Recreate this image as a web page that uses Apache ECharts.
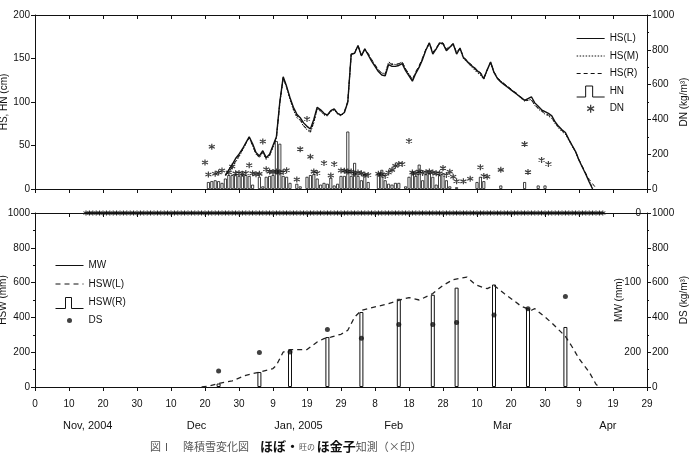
<!DOCTYPE html>
<html>
<head>
<meta charset="utf-8">
<script src="https://cdn.jsdelivr.net/npm/echarts@6/dist/echarts.min.js"></script>
<style>
  html, body { margin: 0; padding: 0; background: #fff; }
  #main { width: 691px; height: 455px; }
</style>
</head>
<body>
<div id="main"></div>
<script>
// x axis: days counted from Oct 31, 2004 (tick every 10 days)
var xTickLabels = ['0','10','20','30','10','20','30','9','19','29','8','18','28','10','20','30','9','19','29'];
var monthNames = ['Nov, 2004','Dec','Jan, 2005','Feb','Mar','Apr'];
var monthDays = [15.5, 47.5, 77.5, 105.5, 137.5, 168.5];

// top panel: snow depth HS (cm), daily from hsStart
var hsStart = 56;
var hsL = [16,22,28,35,40,46,53,60,52,42,38,44,36,40,50,60,100,129,118,105,94,86,82,76,72,69,80,94,91,87,
  85,90,92,87,85,88,100,155,156,165,153,161,154,147,141,135,131,130,143,141,141,142,144,136,130,124,133,140,149,160,
  168,155,161,168,167,159,163,167,155,162,151,147,143,140,136,133,127,137,146,134,127,123,120,117,114,111,108,105,102,104,
  106,99,95,91,89,87,84,77,72,68,65,57,50,43,33,25,17,8,0];
var hsM = [15,19,24,31,37,44,52,59,50,40,36,42,34,38,48,58,98,127,117,103,91,82,79,72,68,65,76,92,89,85,
  84,89,91,86,84,88,99,154,156,164,153,160,155,148,142,137,133,133,146,144,143,144,146,138,132,125,134,141,150,160,
  167,156,161,167,167,160,163,166,156,161,150,146,142,138,134,131,126,136,145,134,128,124,121,118,114,111,108,104,101,102,
  103,96,92,89,86,84,81,75,70,66,63,56,49,42,33,25,17,9,2];
var hsR = [16,20,25,32,38,45,52,59,50,40,37,43,35,39,49,59,99,128,117,104,92,84,80,73,69,66,77,93,90,86,
  85,90,92,87,85,89,101,155,157,165,154,161,156,149,143,137,133,132,145,143,143,144,146,138,132,126,135,142,151,161,
  168,157,162,168,168,161,164,167,157,162,152,148,144,141,137,134,128,137,146,135,128,124,121,118,115,112,109,105,102,102,
  102,97,93,90,87,85,82,76,71,67,64,57,50,43,34,26,18,11,6,1];

// new snow depth HN (cm)
var hnDays = [51,52,53,54,55,56,57,58,59,60,61,62,63,64,66,67,68,69,70,71,72,73,74,75,77,78,80,81,82,83,84,85,86,87,88,89,90,91,
  92,93,94,95,96,97,98,101,102,103,104,105,106,107,109,110,111,112,113,114,115,116,117,118,119,120,121,122,124,130,131,132,137,144,148,150];
var hnValues = [8,9,10,9,7,12,16,16,17,15,16,16,15,5,14,3,14,15,16,55,52,15,14,7,6,3,14,16,17,12,5,7,6,13,4,6,15,15,
  66,15,30,15,10,17,8,18,22,10,6,5,7,7,3,14,20,15,28,10,17,18,14,5,16,18,10,3,2,8,14,9,4,8,4,4];

// new snow density DN (kg/m3)
var dnDays = [50,51,52,53,54,55,57,58,59,60,61,62,63,64,65,66,67,68,69,70,71,72,73,74,77,78,80,81,82,83,85,87,88,90,91,92,93,94,95,96,97,98,
  101,102,103,104,105,106,107,108,110,111,112,113,114,115,116,117,118,119,120,121,122,123,124,126,128,131,132,133,137,144,145,149,151];
var dnValues = [152,83,243,88,95,106,95,129,90,92,88,92,137,90,85,87,273,114,100,98,100,96,98,108,55,229,402,185,100,92,149,78,144,106,105,100,100,88,95,90,82,80,
  88,84,75,95,110,133,144,144,276,95,90,100,92,96,100,95,90,90,120,80,99,70,45,44,59,125,75,70,110,258,97,167,144];

// bottom panel: melt water MW (mm), daily from mwStart
var mwStart = 15;
var mwValues = [
  0,0,0,0,0,0,0,0,0,0,0,0,0,0,0,0,0,0,0,0,0,0,0,0,0,0,0,0,0,0,0,0,0,0,0,0,0,0,0,0,0,0,0,0,0,0,0,0,0,0,0,
  0,0,0,0,0,0,0,0,0,0,0,0,0,0,0,0,0,0,0,0,0,0,0,0,0,0,0,0,0,0,0,0,0,0,0,0,0,0,0,0,0,0,0,0,0,0,0,0,0,0,0,
  0,0,0,0,0,0,0,0,0,0,0,0,0,0,0,0,0,0,0,0,0,0,0,0,0,0,0,0,0,0,0,0,0,0,0,0,0,0,0,0,0,0,0,0,0,0,0,0,0,0,0];

// snow water equivalent HSW(L) (mm)
var hswLDays = [49,51,54,58,62,66,70,71,73,75,80,83,85,87,90,92,94,96,100,104,107,110,113,117,120,123,127,129,130,133,135,138,141,143,146,147,150,152,153,156,158,160,163,165,166];
var hswLValues = [0,4,20,35,67,86,106,125,201,215,215,259,278,287,303,326,402,441,460,479,498,514,500,537,584,617,632,598,584,565,584,537,494,464,441,450,402,368,349,291,230,163,86,16,0];

// snow pit observations: HSW(R) (mm) and bulk density DS (kg/m3)
var pitDays = [54,66,75,86,96,107,117,124,135,145,156];
var hswRValues = [20,86,211,287,431,507,530,571,589,452,345];
var dsValues = [92,198,201,330,280,359,359,370,414,450,520];

var FONT = 'Liberation Sans, Arial, sans-serif';
var INK = '#111';
var STAR = 'path://M0,-3.5L0,3.5M-3.03,-1.75L3.03,1.75M-3.03,1.75L3.03,-1.75';
var LINE_ICON = 'path://M0,-6M28,6M0,0L28,0';

function pairs(days, vals) {
  return vals.map(function (v, i) { return [days[i], v]; });
}
function run(start, vals) {
  return vals.map(function (v, i) { return [start + i, v]; });
}
function lineIcon(name, dash) {
  return { name: name, icon: LINE_ICON,
    itemStyle: { color: 'transparent', borderColor: INK, borderWidth: 1, borderType: dash } };
}

function xAxisBase(grid, pos, extra) {
  var a = {
    gridIndex: grid, type: 'value', position: pos, min: 0, max: 180, interval: 10,
    axisLine: { onZero: false, lineStyle: { color: INK, width: 1 } },
    axisTick: { inside: pos === 'top', length: 4, lineStyle: { color: INK } },
    axisLabel: { show: false },
    splitLine: { show: false }
  };
  return Object.assign(a, extra || {});
}
function yAxisBase(grid, pos, min, max, interval, extra) {
  var a = {
    gridIndex: grid, type: 'value', position: pos, min: min, max: max, interval: interval,
    axisLine: { show: true, onZero: false, lineStyle: { color: INK, width: 1 } },
    axisTick: { show: true, length: 4, lineStyle: { color: INK } },
    axisLabel: { color: INK, fontSize: 10, fontFamily: FONT, margin: 5,
      formatter: function (v) { return String(v); } },
    splitLine: { show: false },
    nameLocation: 'middle', nameRotate: 90, nameMoveOverlap: false,
    nameTextStyle: { color: INK, fontSize: 10, fontFamily: FONT }
  };
  return Object.assign(a, extra || {});
}
var minor = { show: true, splitNumber: 2, length: 2, lineStyle: { color: INK } };

var chart = echarts.init(document.getElementById('main'));
var option = {
  backgroundColor: '#fff',
  animation: false,
  grid: [
    { left: 35, right: 44, top: 15, height: 174, containLabel: false, outerBoundsMode: 'none' },
    { left: 35, right: 44, top: 213, height: 174, containLabel: false, outerBoundsMode: 'none' }
  ],
  xAxis: [
    xAxisBase(0, 'bottom'),
    xAxisBase(0, 'top'),
    xAxisBase(1, 'bottom', {
      axisLabel: { show: true, color: INK, fontSize: 10, fontFamily: FONT, margin: 12,
        formatter: function (v) { return xTickLabels[Math.round(v / 10)]; } }
    }),
    xAxisBase(1, 'top'),
    xAxisBase(1, 'bottom', {
      axisLine: { show: false }, axisTick: { show: false },
      axisLabel: { show: true, color: INK, fontSize: 11, fontFamily: FONT, margin: 33,
        customValues: monthDays,
        formatter: function (v) { return monthNames[monthDays.indexOf(v)]; } }
    })
  ],
  yAxis: [
    yAxisBase(0, 'left', 0, 200, 50, { name: 'HS, HN (cm)', nameGap: 26 }),
    yAxisBase(0, 'right', 0, 1000, 200, { name: 'DN (kg/m³)', nameGap: 32, minorTick: minor }),
    yAxisBase(1, 'left', 0, 1000, 200, { name: 'HSW (mm)', nameGap: 27, minorTick: minor }),
    yAxisBase(1, 'right', 0, 1000, 200, { name: 'DS (kg/m³)', nameGap: 32, minorTick: minor }),
    yAxisBase(1, 'right', 0, 250, 100, { inverse: true, name: 'MW (mm)', nameGap: -33,
      axisLine: { show: false }, axisTick: { show: false },
      axisLabel: { inside: true, color: INK, fontSize: 10, fontFamily: FONT, margin: 6, showMaxLabel: false } })
  ],
  legend: [
    {
      orient: 'vertical', left: 571, top: 27, itemWidth: 28, itemHeight: 12, itemGap: 4.5,
      textStyle: { color: INK, fontSize: 10, fontFamily: FONT },
      data: [
        lineIcon('HS(L)', 'solid'), lineIcon('HS(M)', [1.5, 1.5]), lineIcon('HS(R)', [4, 3]),
        { name: 'HN', icon: 'path://M0,0M0,12L9,12L9,1L16,1L16,12L28,12',
          itemStyle: { color: '#fff', borderColor: INK, borderWidth: 1 } },
        { name: 'DN', icon: 'path://M-14,-6M14,6M0,-4L0,4M-3.46,-2L3.46,2M-3.46,2L3.46,-2',
          itemStyle: { color: 'transparent', borderColor: INK, borderWidth: 1.3 } }
      ]
    },
    {
      orient: 'vertical', left: 50, top: 254, itemWidth: 28, itemHeight: 12, itemGap: 5.5,
      textStyle: { color: INK, fontSize: 10, fontFamily: FONT },
      data: [
        lineIcon('MW', 'solid'), lineIcon('HSW(L)', [5, 4]),
        { name: 'HSW(R)', icon: 'path://M0,0M0,12L10,12L10,1L16,1L16,12L28,12',
          itemStyle: { color: '#fff', borderColor: INK, borderWidth: 1 } },
        { name: 'DS', icon: 'path://M-14,-6M14,6M-2.5,0A2.5,2.5 0 1,0 2.5,0A2.5,2.5 0 1,0 -2.5,0',
          itemStyle: { color: INK, borderWidth: 0 } }
      ]
    }
  ],
  series: [
    { name: 'HN', type: 'bar', xAxisIndex: 0, yAxisIndex: 0, barWidth: 3, z: 2,
      itemStyle: { color: '#fff', borderColor: INK, borderWidth: 0.8 },
      data: pairs(hnDays, hnValues) },
    { name: 'HS(L)', type: 'line', xAxisIndex: 0, yAxisIndex: 0, symbol: 'none', z: 4,
      lineStyle: { color: INK, width: 1.4 }, itemStyle: { color: INK },
      data: run(hsStart, hsL) },
    { name: 'HS(M)', type: 'line', xAxisIndex: 0, yAxisIndex: 0, symbol: 'none', z: 4,
      lineStyle: { color: INK, width: 1, type: [1.5, 1.5] }, itemStyle: { color: INK },
      data: run(hsStart, hsM) },
    { name: 'HS(R)', type: 'line', xAxisIndex: 0, yAxisIndex: 0, symbol: 'none', z: 4,
      lineStyle: { color: INK, width: 1, type: [4, 3] }, itemStyle: { color: INK },
      data: run(hsStart, hsR) },
    { name: 'DN', type: 'scatter', xAxisIndex: 0, yAxisIndex: 1, symbol: STAR, symbolSize: 6, z: 5,
      itemStyle: { color: 'transparent', borderColor: INK, borderWidth: 1.2 },
      data: pairs(dnDays, dnValues) },

    { name: 'MW', type: 'line', xAxisIndex: 2, yAxisIndex: 4, symbol: STAR, symbolSize: 5,
      showAllSymbol: true, z: 5,
      lineStyle: { color: INK, width: 1 },
      itemStyle: { color: 'transparent', borderColor: INK, borderWidth: 1 },
      data: run(mwStart, mwValues) },
    { name: 'HSW(L)', type: 'line', xAxisIndex: 2, yAxisIndex: 2, symbol: 'none', z: 4,
      lineStyle: { color: '#222', width: 1.3, type: [5, 4] }, itemStyle: { color: '#222' },
      data: pairs(hswLDays, hswLValues) },
    { name: 'HSW(R)', type: 'bar', xAxisIndex: 2, yAxisIndex: 2, barWidth: 4, z: 3,
      itemStyle: { color: '#fff', borderColor: INK, borderWidth: 1 },
      data: pairs(pitDays, hswRValues) },
    { name: 'DS', type: 'scatter', xAxisIndex: 2, yAxisIndex: 3, symbol: 'circle', symbolSize: 5, z: 6,
      itemStyle: { color: INK },
      data: pairs(pitDays, dsValues) }
  ],
  graphic: [
    { type: 'text', left: 150, top: 440,
      style: {
        text: '{n|図Ⅰ　降積雪変化図　}{b|ほぼ・}{s|旺の }{b|ほ金子}{n|知測（×印）}',
        rich: {
          n: { fontSize: 11, fontFamily: 'Noto Sans CJK JP', fill: '#555' },
          s: { fontSize: 8, fontFamily: 'Noto Sans CJK JP', fill: '#555' },
          b: { fontSize: 13, fontWeight: 'bold', fontFamily: 'Noto Sans CJK JP', fill: '#111' }
        }
      } }
  ]
};
chart.setOption(option);
</script>
</body>
</html>
